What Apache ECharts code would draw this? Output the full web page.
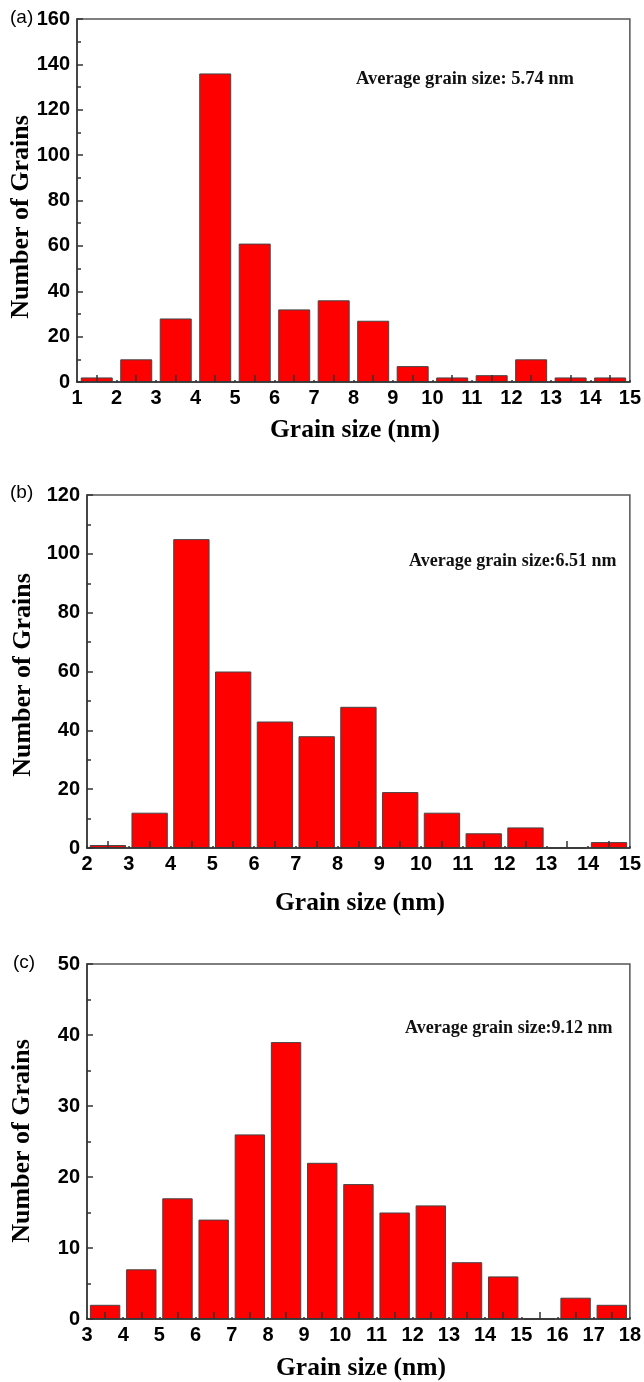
<!DOCTYPE html>
<html><head><meta charset="utf-8">
<script src="https://cdn.jsdelivr.net/npm/echarts@6/dist/echarts.min.js"></script>
<style>html,body{margin:0;padding:0;background:#fff}#c{width:644px;height:1382px}</style>
</head><body><div id="c"></div>
<script>
// Panel (a)
const binStartA = [1,2,3,4,5,6,7,8,9,10,11,12,13,14];
const countsA   = [2,10,28,136,61,32,36,27,7,2,3,10,2,2];
// Panel (b)
const binStartB = [2,3,4,5,6,7,8,9,10,11,12,13,14];
const countsB   = [1,12,105,60,43,38,48,19,12,5,7,0,2];
// Panel (c)
const binStartC = [3,4,5,6,7,8,9,10,11,12,13,14,15,16,17];
const countsC   = [2,7,17,14,26,39,22,19,15,16,8,6,0,3,2];

const xRanges = [[1,15],[2,15],[3,18]];
const yRanges = [[0,160,20],[0,120,20],[0,50,10]];
const panelLabels = ['(a)','(b)','(c)'];
const avgTexts = ['Average grain size: 5.74 nm','Average grain size:6.51 nm','Average grain size:9.12 nm'];
const xTitle = 'Grain size (nm)';
const yTitle = 'Number of Grains';

const SANS = "'Liberation Sans', Arial, sans-serif";
const SERIF = "'Liberation Serif', 'Times New Roman', serif";
const AX = '#333';

const grids = [
  {left:77, right:12, top:19, height:363},
  {left:87, right:12, top:495, height:353},
  {left:87, right:12, top:964, height:355}
];
const barWidths = ['81%','87%','84%'];
const bins = [binStartA, binStartB, binStartC];
const counts = [countsA, countsB, countsC];

const option = {
  animation:false,
  backgroundColor:'#fff',
  grid: grids.map(g => Object.assign({show:true, borderColor:'#555', borderWidth:1.5, backgroundColor:'transparent'}, g)),
  xAxis: xRanges.map((r,i) => ({
    gridIndex:i, type:'value', min:r[0], max:r[1], interval:1, z:5,
    axisLine:{show:true, onZero:false, lineStyle:{color:AX, width:1.5}},
    axisTick:{show:true, inside:true, length:2, lineStyle:{color:AX, width:1.5}},
    minorTick:{show:true, splitNumber:2, length:7, lineStyle:{color:AX, width:1.5}},
    splitLine:{show:false}, minorSplitLine:{show:false},
    axisLabel:{fontFamily:SANS, fontWeight:'bold', fontSize:20, color:'#000', margin:6}
  })),
  yAxis: yRanges.map((r,i) => ({
    gridIndex:i, type:'value', min:r[0], max:r[1], interval:r[2], z:5,
    axisLine:{show:true, onZero:false, lineStyle:{color:AX, width:1.5}},
    axisTick:{show:true, inside:true, length:6, lineStyle:{color:AX, width:1.5}},
    minorTick:{show:true, splitNumber:2, length:4, lineStyle:{color:AX, width:1.5}},
    splitLine:{show:false}, minorSplitLine:{show:false},
    axisLabel:{fontFamily:SANS, fontWeight:'bold', fontSize:20, color:'#000', margin:7}
  })),
  series: counts.map((c,i) => ({
    type:'bar', xAxisIndex:i, yAxisIndex:i, barWidth:barWidths[i],
    data: c.map((v,k) => [bins[i][k] + 0.5, v]),
    itemStyle:{color:'#ff0000', borderColor:'#444', borderWidth:1}
  })),
  graphic: [
    {type:'text', left:10, top:8, style:{text:panelLabels[0], font:"19px "+SANS, fill:'#000'}},
    {type:'text', left:10, top:483, style:{text:panelLabels[1], font:"19px "+SANS, fill:'#000'}},
    {type:'text', left:13, top:953, style:{text:panelLabels[2], font:"19px "+SANS, fill:'#000'}},
    {type:'text', x:356, y:79, style:{text:avgTexts[0], font:"bold 18.5px "+SERIF, fill:'#111', textAlign:'left', textVerticalAlign:'middle'}},
    {type:'text', x:409, y:561, style:{text:avgTexts[1], font:"bold 18px "+SERIF, fill:'#111', textAlign:'left', textVerticalAlign:'middle'}},
    {type:'text', x:405, y:1028, style:{text:avgTexts[2], font:"bold 18px "+SERIF, fill:'#111', textAlign:'left', textVerticalAlign:'middle'}},
    {type:'text', x:21, y:217, rotation:Math.PI/2, style:{text:yTitle, font:"bold 26px "+SERIF, fill:'#000', textAlign:'center', textVerticalAlign:'middle'}},
    {type:'text', x:23.5, y:675, rotation:Math.PI/2, style:{text:yTitle, font:"bold 26px "+SERIF, fill:'#000', textAlign:'center', textVerticalAlign:'middle'}},
    {type:'text', x:22.5, y:1141, rotation:Math.PI/2, style:{text:yTitle, font:"bold 26px "+SERIF, fill:'#000', textAlign:'center', textVerticalAlign:'middle'}},
    {type:'text', x:355, y:430, style:{text:xTitle, font:"bold 25.5px "+SERIF, fill:'#000', textAlign:'center', textVerticalAlign:'middle'}},
    {type:'text', x:360, y:903, style:{text:xTitle, font:"bold 25.5px "+SERIF, fill:'#000', textAlign:'center', textVerticalAlign:'middle'}},
    {type:'text', x:361, y:1368, style:{text:xTitle, font:"bold 25.5px "+SERIF, fill:'#000', textAlign:'center', textVerticalAlign:'middle'}}
  ]
};
const chart = echarts.init(document.getElementById('c'), null, {renderer:'canvas'});
chart.setOption(option);
</script></body></html>
